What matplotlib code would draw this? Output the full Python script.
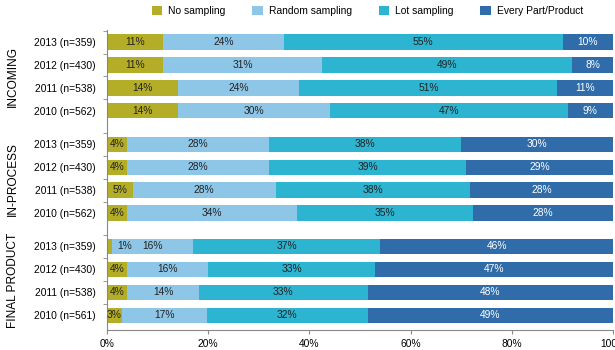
import matplotlib.pyplot as plt
import numpy as np

plt.rcParams['font.family'] = ['Liberation Sans', 'DejaVu Sans']

# Datos
grupos = ['INCOMING', 'IN-PROCESS', 'FINAL PRODUCT']
filas = [
    ['2013 (n=359)', '2012 (n=430)', '2011 (n=538)', '2010 (n=562)'],
    ['2013 (n=359)', '2012 (n=430)', '2011 (n=538)', '2010 (n=562)'],
    ['2013 (n=359)', '2012 (n=430)', '2011 (n=538)', '2010 (n=561)'],
]
series = ['No sampling', 'Random sampling', 'Lot sampling', 'Every Part/Product']
no_sampling = [11, 11, 14, 14, 4, 4, 5, 4, 1, 4, 4, 3]
random_sampling = [24, 31, 24, 30, 28, 28, 28, 34, 16, 16, 14, 17]
lot_sampling = [55, 49, 51, 47, 38, 39, 38, 35, 37, 33, 33, 32]
every_part = [10, 8, 11, 9, 30, 29, 28, 28, 46, 47, 48, 49]

colores = ['#b3ad27', '#8ec6e8', '#2db4d0', '#2f6ca9']
texto_col = ['#222222', '#222222', '#222222', 'white']

# posiciones de las filas con hueco entre grupos
gap = 1.45
pos = []
for g in range(3):
    for i in range(4):
        pos.append(g * (4 + gap - 1) + i)
pos = np.array(pos)
etiquetas = [f for grupo in filas for f in grupo]

fig = plt.figure(figsize=(6.15, 3.5), dpi=100)
ax = fig.add_axes([0.174, 0.057, 0.823, 0.857])

datos = np.array([no_sampling, random_sampling, lot_sampling, every_part], dtype=float)
# los porcentajes redondeados no siempre suman 100: las barras se escalan al 100%
total = datos.sum(axis=0)
escala = 100 / total

fs = 7.4
izq = np.zeros(len(pos))
for k, vals in enumerate(datos):
    ancho = vals * escala
    ax.barh(pos, ancho, left=izq, height=0.66, color=colores[k],
            edgecolor='none', label=series[k])
    for j, v in enumerate(vals):
        x = izq[j] + ancho[j] / 2
        if k == 0 and v <= 2:
            x = izq[j] + ancho[j] + 2.4
        ax.text(x, pos[j], f'{int(v)}%', ha='center', va='center',
                fontsize=fs, color=texto_col[k])
    izq += ancho

ax.set_xlim(0, 100)
ax.set_ylim(pos[-1] + 0.65, pos[0] - 0.52)
ax.set_yticks(pos)
ax.set_yticklabels(etiquetas, fontsize=fs)
ax.tick_params(axis='y', length=0, pad=8)
# marcas entre filas
bordes = [p - 0.5 for p in pos]
ax.set_yticks(bordes, minor=True)
ax.tick_params(axis='y', which='minor', length=3, color='#888888')
ax.set_xticks([0, 20, 40, 60, 80, 100])
ax.set_xticklabels(['0%', '20%', '40%', '60%', '80%', '100%'], fontsize=fs)
ax.tick_params(axis='x', length=3, color='#888888')

for lado in ['top', 'right']:
    ax.spines[lado].set_visible(False)
ax.spines['left'].set_color('#888888')
ax.spines['bottom'].set_color('#888888')

# etiquetas de grupo
for g, nombre in enumerate(grupos):
    centro = pos[g * 4:(g + 1) * 4].mean()
    ax.text(-18.6, centro, nombre, rotation=90, ha='center', va='center',
            fontsize=8.6, clip_on=False)

fig.legend(loc='upper left', bbox_to_anchor=(0.232, 1.01), ncol=4, frameon=False,
           fontsize=fs, handlelength=1.0, handleheight=1.0, columnspacing=2.6,
           handletextpad=0.6)

plt.savefig('out.png', dpi=100)
